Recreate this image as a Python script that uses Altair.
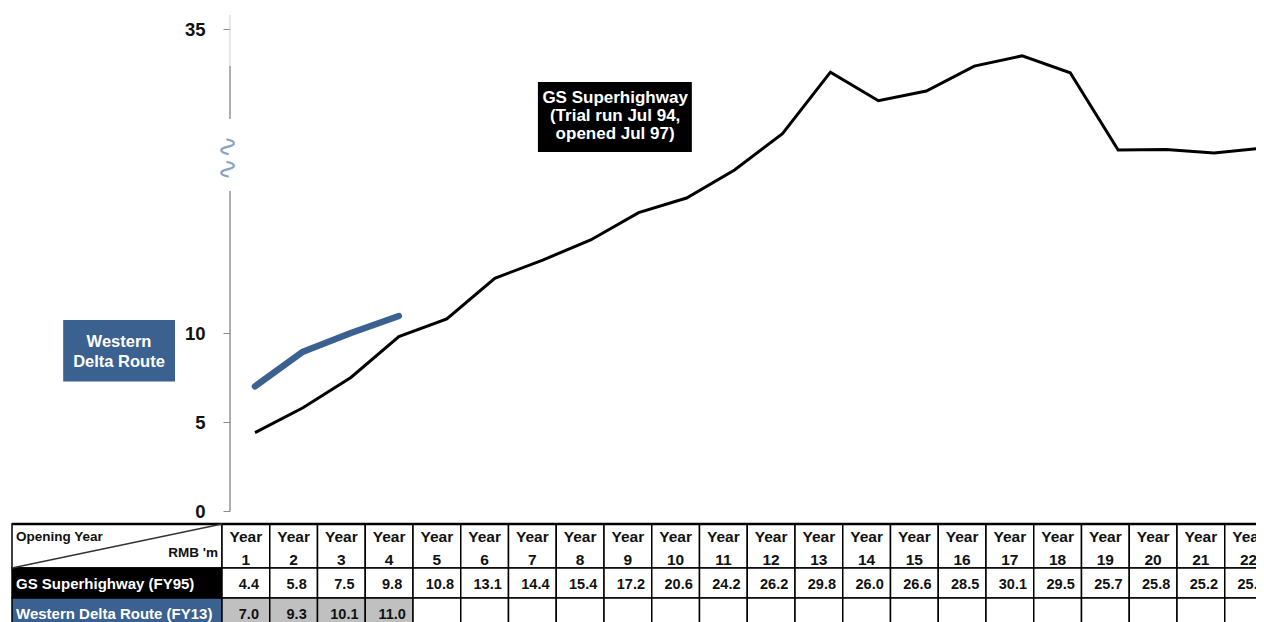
import altair as alt
import pandas as pd

# ---------------- data ----------------
years = list(range(1, 23))
gs_table = [4.4, 5.8, 7.5, 9.8, 10.8, 13.1, 14.4, 15.4, 17.2, 20.6, 24.2, 26.2,
            29.8, 26.0, 26.6, 28.5, 30.1, 29.5, 25.7, 25.8, 25.2, 25.9]
wdr_table = [7.0, 9.3, 10.1, 11.0]
# line heights as drawn on the broken axis
gs_line = [4.4, 5.8, 7.5, 9.8, 11.15, 14.5, 16.0, 17.65, 19.9, 21.1, 23.4, 26.4,
           31.45, 29.1, 29.9, 31.95, 32.8, 31.4, 25.05, 25.1, 24.8, 25.2]
wdr_line = [7.0, 8.95, 10.0, 11.4]
y_ticks = [0, 5, 10, 35]
row_labels = ["GS Superhighway (FY95)", "Western Delta Route (FY13)"]

BLUE = "#3B6191"
GRAY_CELL = "#C0C0C0"
FONT = "Liberation Sans"

# ---------------- scales ----------------
lx = alt.Scale(domain=[1, 22], range=[25, 1032], nice=False, zero=False)
ly = alt.Scale(domain=[0, 10, 35], range=[496, 318, 14], nice=False, zero=False)
tx = alt.Scale(domain=[-1, 0, 22], range=[-218, -8, 1042.5], nice=False, zero=False)
ty = alt.Scale(domain=[0, 1, 2, 3], range=[509, 553, 583, 613], nice=False, zero=False)

y_axis = alt.Axis(values=y_ticks, domain=False, grid=False, ticks=True, tickSize=7,
                  tickColor="#8c8c8c", tickWidth=1, labelFont=FONT, labelFontSize=18.5,
                  labelFontWeight="bold", labelColor="#111111", labelPadding=18,
                  title=None, labelFlush=False, labelOverlap=False)

# ---------------- line panel ----------------
gs_df = pd.DataFrame({"year": years, "v": gs_line})
wdr_df = pd.DataFrame({"year": years[:4], "v": wdr_line})

axis_df = pd.DataFrame({
    "y1": [36.15, 31.96, 21.68],
    "y2": [31.96, 27.6, 0.0],
    "c": ["#cfcfcf", "#9a9a9a", "#9a9a9a"],
    "w": [1.0, 1.6, 1.6],
})
axis_rules = alt.Chart(axis_df).mark_rule().encode(
    x=alt.value(0),
    y=alt.Y("y1:Q", scale=ly, axis=y_axis),
    y2="y2:Q",
    color=alt.Color("c:N", scale=None),
    strokeWidth=alt.StrokeWidth("w:Q", scale=None),
)

squig_df = pd.DataFrame({"y": [24.39], "t": ["∿∿"]})
squiggle = alt.Chart(squig_df).mark_text(
    angle=90, fontSize=27, font="DejaVu Sans", color="#8aa2c4", baseline="middle", align="center"
).encode(x=alt.value(-3), y=alt.Y("y:Q", scale=ly, axis=y_axis), text="t:N")

gs_chart = alt.Chart(gs_df).mark_line(color="black", strokeWidth=3, strokeJoin="miter").encode(
    x=alt.X("year:Q", scale=lx, axis=None),
    y=alt.Y("v:Q", scale=ly, axis=y_axis),
)
wdr_chart = alt.Chart(wdr_df).mark_line(color=BLUE, strokeWidth=6.5, strokeCap="round",
                                        strokeJoin="round").encode(
    x=alt.X("year:Q", scale=lx, axis=None),
    y=alt.Y("v:Q", scale=ly, axis=y_axis),
)

box_df = pd.DataFrame({
    "x1": [-3.0, 6.9], "x2": [-0.668, 10.11],
    "y1": [7.27, 24.88], "y2": [11.07, 30.64],
    "fill": [BLUE, "black"],
})
boxes = alt.Chart(box_df).mark_rect().encode(
    x=alt.X("x1:Q", scale=lx, axis=None), x2="x2:Q",
    y=alt.Y("y1:Q", scale=ly, axis=y_axis), y2="y2:Q",
    fill=alt.Fill("fill:N", scale=None),
)
ann_df = pd.DataFrame({
    "x": [-1.836, 8.51], "y": [8.93, 27.93],
    "t": ["Western\nDelta Route", "GS Superhighway\n(Trial run Jul 94,\nopened Jul 97)"],
})
ann_wdr = alt.Chart(ann_df.iloc[[0]]).mark_text(
    color="white", font=FONT, fontWeight="bold", fontSize=16.5, lineBreak="\n", lineHeight=20,
    align="center", baseline="middle", dy=-10).encode(
    x=alt.X("x:Q", scale=lx, axis=None), y=alt.Y("y:Q", scale=ly, axis=y_axis), text="t:N")
ann_gs = alt.Chart(ann_df.iloc[[1]]).mark_text(
    color="white", font=FONT, fontWeight="bold", fontSize=17, lineBreak="\n", lineHeight=18,
    align="center", baseline="middle", dy=-17).encode(
    x=alt.X("x:Q", scale=lx, axis=None), y=alt.Y("y:Q", scale=ly, axis=y_axis), text="t:N")

line_panel = alt.layer(axis_rules, squiggle, gs_chart, wdr_chart, boxes, ann_wdr, ann_gs)

# ---------------- table panel ----------------
cells = []
cells.append({"c0": -1, "c1": 0, "r0": 0, "r1": 1, "fill": "white"})
cells.append({"c0": -1, "c1": 0, "r0": 1, "r1": 2, "fill": "black"})
cells.append({"c0": -1, "c1": 0, "r0": 2, "r1": 3, "fill": BLUE})
for i in years:
    cells.append({"c0": i - 1, "c1": i, "r0": 0, "r1": 1, "fill": "white"})
    cells.append({"c0": i - 1, "c1": i, "r0": 1, "r1": 2, "fill": "white"})
    cells.append({"c0": i - 1, "c1": i, "r0": 2, "r1": 3,
                  "fill": GRAY_CELL if i <= len(wdr_table) else "white"})
cells_df = pd.DataFrame(cells)
cell_marks = alt.Chart(cells_df).mark_rect(stroke="black", strokeWidth=1.5).encode(
    x=alt.X("c0:Q", scale=tx, axis=None), x2="c1:Q",
    y=alt.Y("r0:Q", scale=ty, axis=None), y2="r1:Q",
    fill=alt.Fill("fill:N", scale=None),
)
top_df = pd.DataFrame({"a": [-1], "b": [22], "r": [0]})
top_border = alt.Chart(top_df).mark_rule(color="black", strokeWidth=2.5).encode(
    x=alt.X("a:Q", scale=tx, axis=None), x2="b:Q", y=alt.Y("r:Q", scale=ty, axis=None))

diag_df = pd.DataFrame({"a": [-1], "b": [0], "r0": [1], "r1": [0]})
diag = alt.Chart(diag_df).mark_rule(color="#333333", strokeWidth=1.3).encode(
    x=alt.X("a:Q", scale=tx, axis=None), x2="b:Q",
    y=alt.Y("r0:Q", scale=ty, axis=None), y2="r1:Q")

head_df = pd.DataFrame({"i": years, "t": [f"Year\n{i}" for i in years]})
head_text = alt.Chart(head_df).transform_calculate(xm="datum.i - 0.5", ym="0.5").mark_text(
    font=FONT, fontSize=15.5, fontWeight="bold", color="#111111", lineBreak="\n", lineHeight=23,
    align="center", baseline="middle", dy=-9.5).encode(
    x=alt.X("xm:Q", scale=tx, axis=None), y=alt.Y("ym:Q", scale=ty, axis=None), text="t:N")

val_rows = []
for i, v in zip(years, gs_table):
    val_rows.append({"i": i, "r": 1, "t": f"{v:.1f}"})
for i, v in zip(years, wdr_table):
    val_rows.append({"i": i, "r": 2, "t": f"{v:.1f}"})
val_df = pd.DataFrame(val_rows)
val_text = alt.Chart(val_df).transform_calculate(xm="datum.i - 0.5", ym="datum.r + 0.5").mark_text(
    font=FONT, fontSize=14.5, fontWeight="bold", color="#111111",
    align="center", baseline="middle", dx=3, dy=1.5).encode(
    x=alt.X("xm:Q", scale=tx, axis=None), y=alt.Y("ym:Q", scale=ty, axis=None), text="t:N")

lab_df = pd.DataFrame({"x": [-1, -1], "y": [1.5, 2.5], "t": row_labels})
lab_text = alt.Chart(lab_df).mark_text(
    font=FONT, fontSize=15, fontWeight="bold", color="white",
    align="left", baseline="middle", dx=4, dy=1).encode(
    x=alt.X("x:Q", scale=tx, axis=None), y=alt.Y("y:Q", scale=ty, axis=None), text="t:N")

corner_df = pd.DataFrame({"x": [-1], "y": [0.3], "t": ["Opening Year"]})
corner1 = alt.Chart(corner_df).mark_text(
    font=FONT, fontSize=13.5, fontWeight="bold", color="#111111",
    align="left", baseline="middle", dx=4).encode(
    x=alt.X("x:Q", scale=tx, axis=None), y=alt.Y("y:Q", scale=ty, axis=None), text="t:N")
corner2_df = pd.DataFrame({"x": [0], "y": [0.66], "t": ["RMB 'm"]})
corner2 = alt.Chart(corner2_df).mark_text(
    font=FONT, fontSize=13.5, fontWeight="bold", color="#111111",
    align="right", baseline="middle", dx=-4).encode(
    x=alt.X("x:Q", scale=tx, axis=None), y=alt.Y("y:Q", scale=ty, axis=None), text="t:N")

table_panel = alt.layer(cell_marks, top_border, diag, head_text, val_text, lab_text, corner1, corner2)

chart = alt.layer(line_panel, table_panel).resolve_scale(
    x="independent", y="independent"
).properties(
    width=1026, height=496,
    autosize=alt.AutoSizeParams(type="none"),
    padding={"left": 222, "top": 7, "right": 0, "bottom": 111},
    background="white",
).configure_view(stroke=None)

chart.save("out.html", embed_options={"renderer": "svg", "actions": False})
